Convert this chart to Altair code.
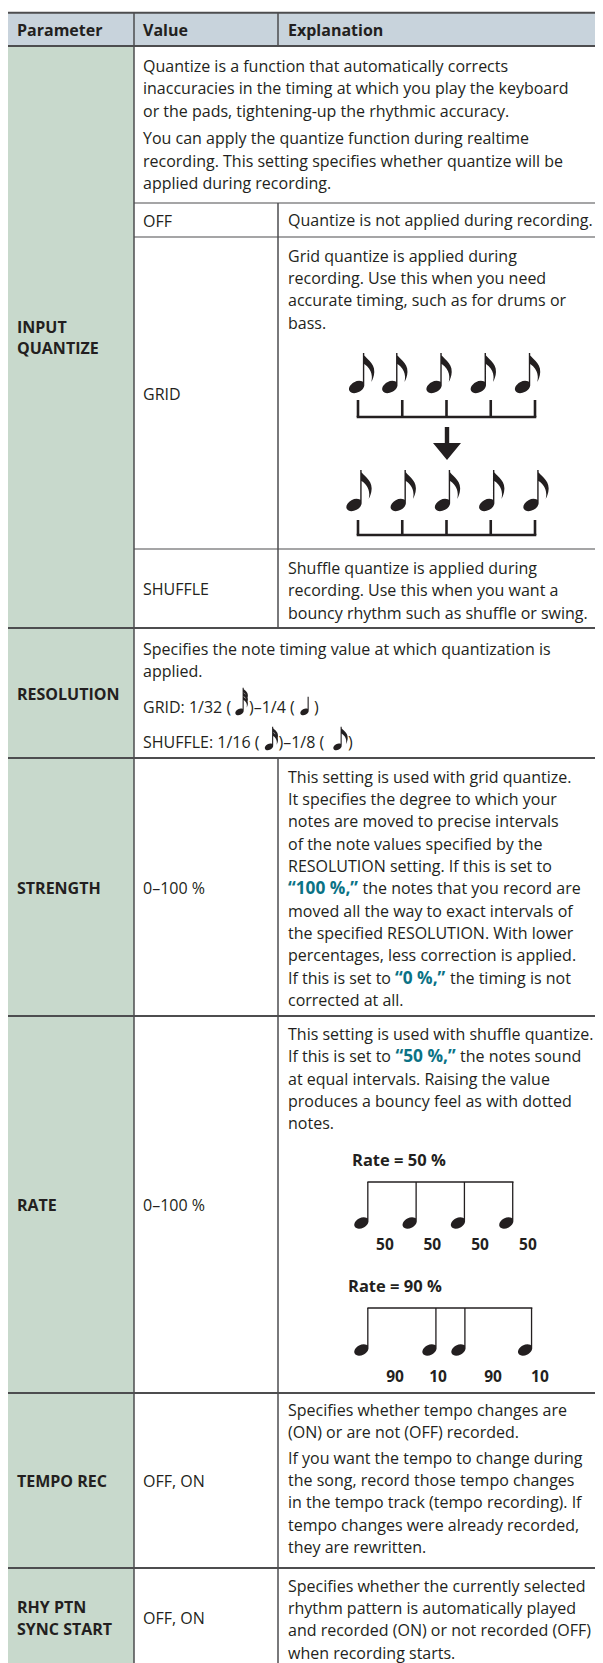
import math
import altair as alt
import pandas as pd

# ------------------------------------------------------------------ content
HEADER = ["Parameter", "Value", "Explanation"]
PARAM_LABELS = [["INPUT", "QUANTIZE"], ["RESOLUTION"], ["STRENGTH"], ["RATE"],
                ["TEMPO REC"], ["RHY PTN", "SYNC START"]]
IQ_INTRO = [
    ["Quantize is a function that automatically corrects",
     "inaccuracies in the timing at which you play the keyboard",
     "or the pads, tightening-up the rhythmic accuracy."],
    ["You can apply the quantize function during realtime",
     "recording. This setting specifies whether quantize will be",
     "applied during recording."],
]
IQ_VALUES = ["OFF", "GRID", "SHUFFLE"]
IQ_EXPLANATIONS = [
    ["Quantize is not applied during recording."],
    ["Grid quantize is applied during", "recording. Use this when you need",
     "accurate timing, such as for drums or", "bass."],
    ["Shuffle quantize is applied during", "recording. Use this when you want a",
     "bouncy rhythm such as shuffle or swing."],
]
RES_INTRO = ["Specifies the note timing value at which quantization is", "applied."]
RES_RANGE_TEXT = [["GRID: 1/32 (", ")–1/4 (", ")"],
                  ["SHUFFLE: 1/16 (", ")–1/8 (", ")"]]
RES_RANGE_NOTES = [[32, 4], [16, 8]]
STRENGTH_VALUE = "0–100 %"
STRENGTH_LINES = [
    [("This setting is used with grid quantize.", "body")],
    [("It specifies the degree to which your", "body")],
    [("notes are moved to precise intervals", "body")],
    [("of the note values specified by the", "body")],
    [("RESOLUTION setting. If this is set to", "body")],
    [("“100 %,”", "teal"), ("the notes that you record are", "body")],
    [("moved all the way to exact intervals of", "body")],
    [("the specified RESOLUTION. With lower", "body")],
    [("percentages, less correction is applied.", "body")],
    [("If this is set to", "body"), ("“0 %,”", "teal"), ("the timing is not", "body")],
    [("corrected at all.", "body")],
]
RATE_VALUE = "0–100 %"
RATE_LINES = [
    [("This setting is used with shuffle quantize.", "body")],
    [("If this is set to", "body"), ("“50 %,”", "teal"), ("the notes sound", "body")],
    [("at equal intervals. Raising the value", "body")],
    [("produces a bouncy feel as with dotted", "body")],
    [("notes.", "body")],
]
RATE_TITLES = ["Rate = 50 %", "Rate = 90 %"]
RATE_ONSETS = [[0, 1, 2, 3], [0, 1.41, 2.01, 3.39]]
RATE_LABELS = [["50", "50", "50", "50"], ["90", "10", "90", "10"]]
RATE_LABEL_POS = [[0.35, 1.33, 2.32, 3.31], [0.56, 1.45, 2.59, 3.56]]
GRID_TICKS = [0, 1, 2, 3, 4]
GRID_BEFORE = [0.06, 0.81, 1.81, 2.81, 3.81]
GRID_AFTER = [0, 1, 2, 3, 4]
TEMPO_VALUE = "OFF, ON"
TEMPO_PARAS = [
    ["Specifies whether tempo changes are", "(ON) or are not (OFF) recorded."],
    ["If you want the tempo to change during", "the song, record those tempo changes",
     "in the tempo track (tempo recording). If", "tempo changes were already recorded,",
     "they are rewritten."],
]
RHY_VALUE = "OFF, ON"
RHY_LINES = ["Specifies whether the currently selected", "rhythm pattern is automatically played",
             "and recorded (ON) or not recorded (OFF)", "when recording starts."]

# ------------------------------------------------------------------ layout / style
VIEW_W, VIEW_H = 587, 1655          # drawing area (page px 8..595 x 8..1663)
X_LEFT, X_VAL, X_EXP, X_RIGHT = 8, 134, 278, 603
TX_PARAM, TX_VAL, TX_EXP = 17, 143, 288
LINE = 22.35
LABEL_LINE = 21.2
Y_HDR_TOP, Y_HDR_BOT, Y_HDR_TEXT = 12.7, 46, 31
SECTIONS = [46, 628, 758, 1016, 1393, 1568, 1667]
IQ_SUB = [203, 237, 549, 628]
IQ_INTRO_Y, IQ_PARA_GAP = 67, 27.5
IQ_EXPL_Y = [221, 256.5, 569]
RES_INTRO_Y, RES_RANGE_Y = 649.5, [708, 743]
RES_TEXT_X = [[143, 249, 314], [143, 278.5, 348]]
RES_NOTE_X = [[239.5, 304.5], [269, 337.5]]
RES_NOTE_DY = 3.8
STRENGTH_Y, RATE_Y, TEMPO_Y, TEMPO_GAP, RHY_Y = 777.5, 1035, 1410.7, 25.5, 1586.7
SEG_X = {("S", 5): [288, 362.5], ("S", 9): [288, 395, 450], ("R", 1): [288, 395.5, 460]}
GRID_X0, GRID_STEP, GRID_HEAD_DX = 358, 44.25, -4
GRID_ROWS = [dict(head=387, stem=34, bar=417, tick=400), dict(head=505, stem=35, bar=535, tick=520)]
ARROW_XY = (447, 427)
RATE_X0, RATE_STEP, RATE_HEAD_DX = 368, 48.3, -6.6
RATE_BEAM_Y, RATE_HEAD_Y, RATE_LABEL_Y = [1182, 1308], [1223, 1350], [1245, 1377]
RATE_TITLE_XY = [(352, 1161), (348, 1287)]

INK = "#231f20"
LINE_COL = "#4d4d4f"
TEAL = "#0b7285"
HEADER_BG = "#c8d3dc"
PARAM_BG = "#c8d9cc"
FONT = "Open Sans"


# ------------------------------------------------------------------ glyph paths
def fmt(v):
    s = f"{v:.2f}".rstrip("0").rstrip(".")
    return "0" if s in ("-0", "", "-") else s


def pt(x, y):
    return f"{fmt(x)} {fmt(y)}"


def ellipse(rx, ry, ang):
    a = math.radians(ang)
    c, s = math.cos(a), math.sin(a)

    def T(px, py):
        return pt(px * c - py * s, px * s + py * c)

    k = 0.5523
    segs = [((rx, k * ry), (k * rx, ry), (0, ry)), ((-k * rx, ry), (-rx, k * ry), (-rx, 0)),
            ((-rx, -k * ry), (-k * rx, -ry), (0, -ry)), ((k * rx, -ry), (rx, -k * ry), (rx, 0))]
    out = "M" + T(rx, 0)
    for p1, p2, p3 in segs:
        out += "C" + T(*p1) + " " + T(*p2) + " " + T(*p3)
    return out + "Z"


def rect(x1, y1, x2, y2):
    return f"M{pt(x1, y1)}L{pt(x2, y1)}L{pt(x2, y2)}L{pt(x1, y2)}Z"


def flag(x, y, f, sw):
    return (f"M{pt(x - sw, y)}C{pt(x + 1.0 * f, y + 6 * f)} {pt(x + 10.5 * f, y + 9 * f)} {pt(x + 10 * f, y + 19 * f)}"
            f"C{pt(x + 9.8 * f, y + 23 * f)} {pt(x + 8.5 * f, y + 26.5 * f)} {pt(x + 7 * f, y + 29 * f)}"
            f"C{pt(x + 8.2 * f, y + 25 * f)} {pt(x + 8.6 * f, y + 17 * f)} {pt(x, y + 11 * f)}"
            f"L{pt(x - sw, y + 11 * f)}Z")


def note_path(rx, ry, stem_h, flags=0, fscale=1.0, fgap=0.0, sw=1.4, ang=-28):
    parts = [ellipse(rx, ry, ang)]
    xr = 0.93 * rx
    parts.append(rect(xr - sw, -stem_h, xr, -1.5))
    for i in range(flags):
        parts.append(flag(xr, -stem_h + i * fgap, fscale, sw))
    return " ".join(parts)


BIG_EIGHTH = lambda h: note_path(8.2, 5.4, h, 1, 1.0, 0, 1.4)
SMALL_NOTE = {
    4: note_path(4.5, 3.0, 15, 0, 0, 0, 1.1),
    8: note_path(4.5, 3.0, 20, 1, 0.6, 0, 1.1),
    16: note_path(4.5, 3.0, 20, 2, 0.48, 4.0, 1.1),
    32: note_path(4.5, 3.0, 24, 3, 0.42, 3.8, 1.1),
}
RATE_NOTE = lambda h: note_path(7.6, 5.0, h, 0, 0, 0, 1.3)
ARROW = "M-2.2 0L2.2 0L2.2 16L14 16L0 33L-14 16L-2.2 16Z"

# ------------------------------------------------------------------ build tables
texts = []


def add(x, y, t, style="body"):
    texts.append(dict(x=x, y=y, text=t, style=style))


for x, t in zip([TX_PARAM, TX_VAL, TX_EXP], HEADER):
    add(x, Y_HDR_TEXT, t, "bold")

centers = [(a + b) / 2 + 1.5 for a, b in zip(SECTIONS[:-1], SECTIONS[1:])]
for lines, c in zip(PARAM_LABELS, centers):
    n = len(lines)
    for i, t in enumerate(lines):
        add(TX_PARAM, c + (i - (n - 1) / 2) * LABEL_LINE, t, "bold")

# INPUT QUANTIZE
y = IQ_INTRO_Y
for p, para in enumerate(IQ_INTRO):
    if p:
        y += IQ_PARA_GAP - LINE
    for t in para:
        add(TX_VAL, y, t)
        y += LINE
for i, (v, expl) in enumerate(zip(IQ_VALUES, IQ_EXPLANATIONS)):
    add(TX_VAL, (IQ_SUB[i] + IQ_SUB[i + 1]) / 2 + 1.5, v)
    for j, t in enumerate(expl):
        add(TX_EXP, IQ_EXPL_Y[i] + j * LINE, t)

# RESOLUTION
for j, t in enumerate(RES_INTRO):
    add(TX_VAL, RES_INTRO_Y + j * LINE, t)
for r, segs in enumerate(RES_RANGE_TEXT):
    for sx, t in zip(RES_TEXT_X[r], segs):
        add(sx, RES_RANGE_Y[r], t)


def add_lines(key, lines, y0):
    for i, segs in enumerate(lines):
        xs_ = SEG_X.get((key, i), [TX_EXP])
        for sx, (t, st) in zip(xs_, segs):
            add(sx, y0 + i * LINE, t, st)


add_lines("S", STRENGTH_LINES, STRENGTH_Y)
add(TX_VAL, centers[2], STRENGTH_VALUE)
add_lines("R", RATE_LINES, RATE_Y)
add(TX_VAL, centers[3], RATE_VALUE)
for k, title in enumerate(RATE_TITLES):
    add(RATE_TITLE_XY[k][0], RATE_TITLE_XY[k][1], title, "rate")
    for lab, pos in zip(RATE_LABELS[k], RATE_LABEL_POS[k]):
        add(RATE_X0 + pos * RATE_STEP, RATE_LABEL_Y[k], lab, "num")

# TEMPO REC
y = TEMPO_Y
for p, para in enumerate(TEMPO_PARAS):
    if p:
        y += TEMPO_GAP - LINE
    for t in para:
        add(TX_EXP, y, t)
        y += LINE
add(TX_VAL, centers[4], TEMPO_VALUE)
for j, t in enumerate(RHY_LINES):
    add(TX_EXP, RHY_Y + j * LINE, t)
add(TX_VAL, centers[5] - 0.5, RHY_VALUE)

text_df = pd.DataFrame(texts)

# backgrounds
bg_df = pd.DataFrame([
    dict(x=X_LEFT, x2=X_RIGHT, y=Y_HDR_TOP, y2=Y_HDR_BOT, c=HEADER_BG),
    dict(x=X_LEFT, x2=X_VAL, y=Y_HDR_BOT, y2=1663, c=PARAM_BG),
])

# table rules
hr = [dict(x=X_LEFT, x2=X_RIGHT, y=yy, w=2.0, c=LINE_COL) for yy in [Y_HDR_TOP, Y_HDR_BOT] + SECTIONS[1:-1]]
hr += [dict(x=X_VAL, x2=X_RIGHT, y=yy, w=1.1, c=LINE_COL) for yy in IQ_SUB[:3]]
vr = [dict(x=X_VAL, y=Y_HDR_TOP, y2=1663, w=1.5, c=LINE_COL),
      dict(x=X_EXP, y=Y_HDR_TOP, y2=Y_HDR_BOT, w=1.5, c=LINE_COL),
      dict(x=X_EXP, y=IQ_SUB[0], y2=SECTIONS[1], w=1.5, c=LINE_COL),
      dict(x=X_EXP, y=SECTIONS[2], y2=1663, w=1.5, c=LINE_COL)]

# grid diagram
glyphs = []
for row, onsets in zip(GRID_ROWS, [GRID_BEFORE, GRID_AFTER]):
    for b in onsets:
        glyphs.append(dict(x=GRID_X0 + GRID_HEAD_DX + b * GRID_STEP, y=row["head"], path=BIG_EIGHTH(row["stem"])))
    hr.append(dict(x=GRID_X0 - 1.3, x2=GRID_X0 + GRID_TICKS[-1] * GRID_STEP + 1.3, y=row["bar"], w=2.6, c=INK))
    for t in GRID_TICKS:
        vr.append(dict(x=GRID_X0 + t * GRID_STEP, y=row["tick"], y2=row["bar"], w=2.6, c=INK))
glyphs.append(dict(x=ARROW_XY[0], y=ARROW_XY[1], path=ARROW))

# resolution inline notes
for r, vals in enumerate(RES_RANGE_NOTES):
    for nx, v in zip(RES_NOTE_X[r], vals):
        glyphs.append(dict(x=nx, y=RES_RANGE_Y[r] + RES_NOTE_DY, path=SMALL_NOTE[v]))

# rate diagrams
for k, onsets in enumerate(RATE_ONSETS):
    stem_h = RATE_HEAD_Y[k] - RATE_BEAM_Y[k]
    for o in onsets:
        glyphs.append(dict(x=RATE_X0 + o * RATE_STEP + RATE_HEAD_DX, y=RATE_HEAD_Y[k], path=RATE_NOTE(stem_h)))
    hr.append(dict(x=RATE_X0 - 0.6, x2=RATE_X0 + onsets[-1] * RATE_STEP + 0.6, y=RATE_BEAM_Y[k], w=1.5, c=INK))

hr_df, vr_df, glyph_df = pd.DataFrame(hr), pd.DataFrame(vr), pd.DataFrame(glyphs)

# ------------------------------------------------------------------ chart
xs = alt.Scale(domain=[8, 8 + VIEW_W], range=[0, VIEW_W], nice=False, zero=False)
ys = alt.Scale(domain=[8, 8 + VIEW_H], range=[0, VIEW_H], nice=False, zero=False)
X = lambda f: alt.X(f, type="quantitative", scale=xs, axis=None)
Y = lambda f: alt.Y(f, type="quantitative", scale=ys, axis=None)

bg = alt.Chart(bg_df).mark_rect().encode(
    x=X("x"), x2="x2", y=Y("y"), y2="y2", color=alt.Color("c:N", scale=None))
hrules = alt.Chart(hr_df).mark_rule().encode(
    x=X("x"), x2="x2", y=Y("y"),
    strokeWidth=alt.StrokeWidth("w:Q", scale=None), color=alt.Color("c:N", scale=None))
vrules = alt.Chart(vr_df).mark_rule().encode(
    x=X("x"), y=Y("y"), y2="y2",
    strokeWidth=alt.StrokeWidth("w:Q", scale=None), color=alt.Color("c:N", scale=None))
notes = alt.Chart(glyph_df).mark_point(filled=True, size=4, opacity=1, strokeWidth=0, color=INK).encode(
    x=X("x"), y=Y("y"), shape=alt.Shape("path:N", scale=None))

STYLES = {
    "body": dict(fontSize=16.0, fontWeight="normal", color=INK, align="left"),
    "bold": dict(fontSize=16, fontWeight="bold", color=INK, align="left"),
    "teal": dict(fontSize=17.3, fontWeight="bold", color=TEAL, align="left"),
    "rate": dict(fontSize=16.5, fontWeight="bold", color=INK, align="left"),
    "num": dict(fontSize=15.5, fontWeight="bold", color=INK, align="center"),
}
text_layers = []
for st, kw in STYLES.items():
    sub = text_df[text_df["style"] == st]
    text_layers.append(
        alt.Chart(sub).mark_text(baseline="middle", font=FONT, **kw).encode(
            x=X("x"), y=Y("y"), text="text:N"))

chart = alt.layer(bg, vrules, hrules, notes, *text_layers).properties(
    width=VIEW_W, height=VIEW_H, padding=0, autosize="none", background="white"
).configure_view(stroke=None)

chart.save("out.html", embed_options={"renderer": "svg", "actions": False})
